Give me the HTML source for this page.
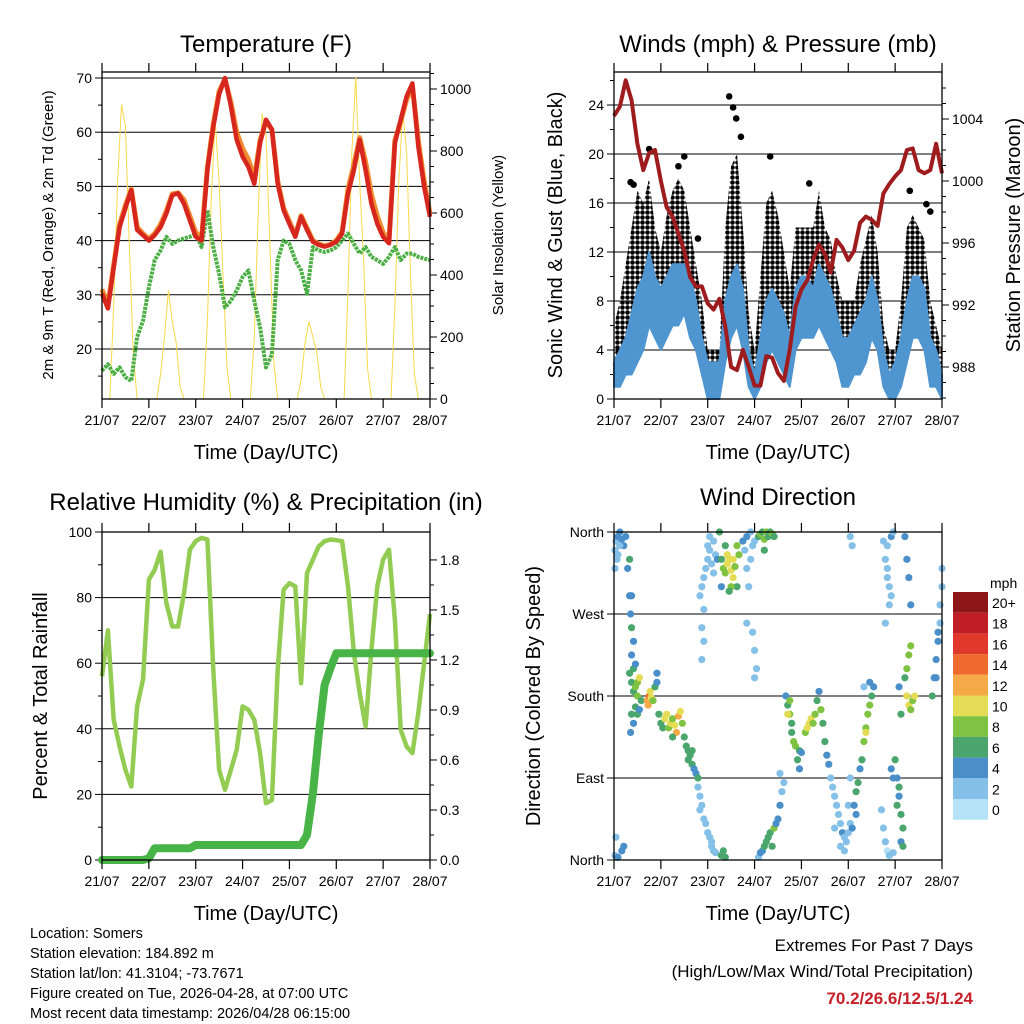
<!DOCTYPE html>
<html><head><meta charset="utf-8"><style>
html,body{margin:0;padding:0;background:#fff;}
svg{display:block;font-family:"Liberation Sans",sans-serif;}
</style></head><body>
<svg id="c" width="1024" height="1024" viewBox="0 0 1024 1024" xmlns="http://www.w3.org/2000/svg">
<defs>
<pattern id="dots" width="5" height="5" patternUnits="userSpaceOnUse">
<circle cx="2.5" cy="2.5" r="2.3" fill="#000"/>
</pattern>
</defs>
</svg>
<script>
// ---- data (3-hourly, hours since 21/07 00Z) ----
const hours3 = [];
for (let i = 0; i <= 56; i++) hours3.push(i * 3);
const dayLabels = ["21/07","22/07","23/07","24/07","25/07","26/07","27/07","28/07"];
const temp2m = [30.2,27.5,35,42.5,46,49.3,42,41,40,41,42.5,45,48.4,48.7,46.8,43.7,40.7,40,53,61,67,70,64.8,58.6,55.5,53.6,50.5,58,62.3,60.5,50.5,45.6,43.1,40.7,44.4,42,39.8,39.2,38.9,39.2,39.8,41.3,48.7,53,58.6,53,46.8,43.1,40.7,39.5,58,62.3,66.6,69,57.4,50,44.4];
const temp9m = [31,28,35.5,43,46.5,49.5,42.5,41.3,40.3,41.3,43,45.5,48.6,48.8,47.5,44.5,41.5,40.5,53.5,61.5,67.5,69.8,65.5,60,57,55,51.5,58.5,62,60.5,51,46,43.5,41,44.6,42.3,40,39.4,39,39.3,40,41.6,49.5,54,59,54.5,48.5,44.5,41.5,40,58.5,62,66,68.4,58.5,51,45];
const dewpt = [16,17.2,15.4,16.6,14.8,14.1,22.2,25.2,31.4,36.4,38.2,40.7,39.4,40,40.4,40.7,41.3,38.8,45.6,38.8,33.9,27.7,28.9,30.8,33.3,34.5,28.9,24,16.6,19,36.4,40,39.4,36.4,34.5,30.2,38.8,38.2,37.9,38.2,38.8,40,41.3,39.4,37.6,38.8,37,36.4,35.7,37,38.8,36.4,37.6,37.6,37,36.7,36.4];
const hours2 = [];
for (let i = 0; i <= 84; i++) hours2.push(i * 2);
const solar = [0,0,0,300,700,950,880,500,150,0,0,0,
 0,0,0,80,200,350,250,180,40,0,0,0,
 0,0,0,250,650,900,700,400,100,0,0,0,
 0,0,0,200,600,920,850,500,120,0,0,0,
 0,0,0,60,180,250,200,150,40,0,0,0,
 0,0,0,350,800,1040,700,450,100,0,0,0,
 0,0,0,300,700,930,800,400,80,0,0,0,0];
const pressure = [1004.2,1004.8,1006.5,1005.2,1002.4,1000.7,1001.8,1002,1000,998.3,997.7,996.6,995.5,993.8,993.2,993.2,992.1,991.7,992.4,990.6,988,987.8,989.1,988,986.8,986.8,988.7,988.6,987.6,987.1,989.1,991.9,993,993.6,994.9,995.9,995.3,994.1,996.2,995.7,994.9,995.5,997.3,997.7,997.5,997.1,999.2,999.8,1000.3,1000.7,1002,1002.1,1000.7,1000.5,1000.7,1002.4,1000.5];
const windLo = [1,1,2,2,3,4,6,5,4,5,6,6,7,5,4,2,0,0,0,3,5,6,4,1,0,1,3,4,3,2,1,4,5,5,5,6,5,4,3,1,1,2,2,3,5,4,1,0,0,1,3,5,5,4,1,1,0];
const windHi = [3,4,5,7,9,10,12,10,9,10,11,11,11,10,8,5,3,3,3,8,10,11,9,4,2,5,8,9,8,7,5,9,10,10,9,11,10,9,7,5,5,6,7,8,10,8,4,2,3,5,8,10,10,9,5,4,2];
const gustLo = [2,3,4,5,7,8,9,7,6,8,9,10,10,8,6,3,1,1,1,6,10,10,7,2,1,3,6,8,6,5,3,7,7,8,8,9,8,6,4,3,2,3,4,6,9,6,2,1,1,3,6,7,8,7,2,2,1];
const gustHi = [6,8,11,14,17,16,18,14,12,15,17,18,17,14,11,8,4,4,4,14,19,20,14,7,4,10,16,17,15,12,9,14,14,14,14,17,14,13,10,8,8,8,11,13,15,12,6,4,4,8,14,15,14,13,8,6,4];
const gustPeakHour = [8.5,10,18,33,36,43,59,61,62.6,65,80,100,151.5,160,162];
const gustPeakVal = [17.7,17.5,20.4,19,19.8,13.1,24.7,23.8,22.9,21.4,19.8,17.6,17,15.9,15.3];
const rh = [56,70,42.7,34.6,27.5,22.4,46.8,55,85.5,88.5,94,78.3,71.2,71.2,81.4,94.6,97.2,98.2,97.7,58,27.5,21.4,27.5,33.6,46.8,45.8,42.7,32.6,17.3,18.3,58,82.4,84.4,83.4,53.9,87.5,91.6,95.6,97.2,97.7,97.5,97.2,83.4,63.1,50.9,40.7,64.1,83.4,91.6,94.6,73.2,39.7,34.6,32.6,44.8,60,75];
const rain = [0,0,0,0,0,0,0,0,0.01,0.07,0.07,0.07,0.07,0.07,0.07,0.07,0.09,0.09,0.09,0.09,0.09,0.09,0.09,0.09,0.09,0.09,0.09,0.09,0.09,0.09,0.09,0.09,0.09,0.09,0.09,0.15,0.4,0.75,1.05,1.15,1.24,1.24,1.24,1.24,1.24,1.24,1.24,1.24,1.24,1.24,1.24,1.24,1.24,1.24,1.24,1.24,1.24];
// wind direction observations: [hour, direction deg, speed mph]
const wdObs = [[0.5,340,1],[1,350,1.5],[2,355,3],[3,360,3],[1.5,330,1],[4,352,3],[5,345,3],[0.5,320,1],[2,335,1],[6,355,3],[3,345,2],
[0.5,5,1],[2,3,3],[4,10,3],[5,15,3],[1,25,1],[8,290,3],[9,290,3],[7,320,3],[8,330,6],
[8.5,270,3],[9,255,6],[10,240,3],[9,225,4],[10,210,6],[11,215,4],[8,205,6],
[9,195,5],[10,185,6],[11,190,8],[12,195,8],[13,200,9],[12,180,7],[14,175,5],[11,168,6],[9,160,5],[10,150,4],[12,160,6],[13,165,4],[8.5,140,4],
[17,175,12],[18,180,13],[17.5,170,11],[19,178,10],[20,175,8],[18.5,185,10],[21,190,6],[22,195,4],[22,205,4],
[23,160,6],[24,150,6],[25,145,6],[26,155,10],[27,160,10],[28,145,8],[29,150,9],[30,155,8],[31,148,10],[32,140,12],[33,158,11],[34,163,10],[35,150,8],[30,135,6],
[36,135,6],[37,125,6],[38,120,5],[39,115,6],[40,105,6],[41,100,4],[42,95,4],[43,90,6],[38,110,6],[40,120,6],
[43,80,2],[44,70,1],[45,60,1],[46,45,1],[47,40,1],[44,55,1],[48,30,1],[49,25,2],[50,15,1],[51,10,2],[52,8,2],[50,20,1],
[55,5,5],[56,10,6],[57,3,5],
[44,290,1],[45,300,1],[46,310,2],[47,320,2],[48,330,2],[49,340,2],[50,325,1],[51,315,1],[46,275,1],[45,255,1],[46,240,2],[45,220,2],
[48,345,2],[49,355,1],[51,350,2],[52,335,2],[53,330,3],
[55,330,6],[56,320,8],[57,315,8],[58,325,10],[59,330,10],[60,318,10],[61,310,9],[62,322,8],[63,300,6],[64,335,8],[63,345,7],[57,345,6],[60,300,8],[58,335,10],[61,330,9],[66,350,4],[67,340,2],[55,300,4],[59,295,6],[54,360,6],
[68,320,2],[69,300,1],[70,330,2],[71,345,2],[72,350,1],[70,360,1],[68,260,1],[71,250,1],[72,230,1],[73,210,2],[72,200,1],[68,355,4],
[74,355,6],[75,358,8],[76,360,6],[77,352,8],[78,360,7],[79,355,6],[80,360,6],[81,358,7],[82,355,6],[77,340,6],
[74,3,2],[75,8,3],[76,10,4],[77,15,6],[78,20,6],[79,25,5],[80,30,6],[81,15,6],[82,35,8],[83,40,4],[84,45,4],[85,60,3],[86,75,2],[87,85,2],[85,95,2],
[88,180,4],[89,170,6],[90,160,7],[91,150,6],[92,130,7],[93,125,7],[94,110,6],[95,120,6],[96,118,4],[90,175,8],[89,160,10],[91,140,6],[95,100,4],
[98,140,8],[99,145,10],[100,150,10],[101,155,10],[102,150,8],[103,160,7],[104,175,6],[105,185,4],[106,165,7],[107,150,6],[108,130,6],[109,115,4],[110,105,4],
[111,90,1],[112,80,2],[113,70,2],[114,60,2],[115,50,1],[116,40,2],[117,30,3],[118,25,2],[119,20,2],[120,30,2],[121,40,2],[122,35,4],[118,10,1],[116,15,2],[113,35,1],[120,60,1],[121,90,1],
[123,60,4],[124,75,6],[125,85,6],[126,100,4],[127,110,6],[128,130,7],[129,145,8],[130,160,8],[131,170,8],[132,180,6],[133,190,4],[131,195,4],[129,140,10],[124,50,4],[128,190,1],
[121,355,1],[122,345,1],
[138,350,1],[139,330,1],[140,320,2],[141,300,1],[142,290,2],[140,310,1],[141,280,1],[142,355,3],[140,345,2],[143,360,2],[139,260,1],
[137,55,1],[138,35,1],[139,20,1],[140,10,0],[141,5,1],[143,8,1],[143,90,4],[142,100,4],[144,110,6],[145,90,4],[146,70,4],[147,50,6],[148,35,6],[147,20,4],[145,60,5],[146,80,6],[148,15,6],
[146,190,4],[147,160,6],[149,200,6],[150,210,8],[151,225,7],[152,235,7],[150,180,10],[151,170,10],[152,165,8],[153,175,8],[154,180,9],
[149,355,4],[150,330,4],[151,310,4],[152,280,4],
[163,180,6],[164,200,4],[165,220,4],[166,240,4],[167,260,2],[167,280,2],[168,300,2],[168,320,2],[166,250,4],[165,200,4]];
const speedBins = ["0","2","4","6","8","10","12","14","16","18","20+"];
const speedColors = ["#b5e2f6","#84c0e8","#4a8fc9","#4aa66c","#80c342","#e4dc55","#f6aa47","#ef6a2e","#e0392b","#bf1e26","#8d1619"];

// ---- helpers ----
const NS = "http://www.w3.org/2000/svg";
const svg = document.getElementById("c");
function el(tag, attrs, parent) {
  const e = document.createElementNS(NS, tag);
  for (const k in attrs) e.setAttribute(k, attrs[k]);
  (parent || svg).appendChild(e);
  return e;
}
function txt(s, x, y, size, anchor, parent, extra) {
  const t = el("text", Object.assign({x: x, y: y, "font-size": size, "text-anchor": anchor || "start", fill: "#000"}, extra || {}), parent);
  t.textContent = s;
  return t;
}
const X0L = 102, X1L = 430, X0R = 614, X1R = 942;
function xH(h, x0) { return x0 + h * 328 / 168; }
function poly(xs, ys) { return xs.map((x, i) => x.toFixed(1) + "," + ys[i].toFixed(1)).join(" "); }

function frame(g, x0, y0, y1, name) {
  const f = el("rect", {x: x0, y: y0, width: 328, height: y1 - y0, fill: "none", stroke: "#000", "stroke-width": 1.3}, g);
  
  
  for (let d = 0; d <= 7; d++) {
    const x = xH(d * 24, x0);
    el("line", {x1: x, x2: x, y1: y0 - 9, y2: y0, stroke: "#000", "stroke-width": 1.2}, g);
    el("line", {x1: x, x2: x, y1: y1, y2: y1 + 9, stroke: "#000", "stroke-width": 1.2}, g);
    const t = txt(dayLabels[d], x, y1 + 26, 14, "middle", g);
    
    
  }
  const xt = txt("Time (Day/UTC)", x0 + 164, y1 + 60, 20, "middle", g);
  
  
}
function grid(g, x0, y) {
  el("line", {x1: x0, x2: x0 + 328, y1: y, y2: y, stroke: "#000", "stroke-width": 1}, g);
}
function leftTick(g, x0, y, label, major) {
  el("line", {x1: x0 - (major ? 7 : 4), x2: x0, y1: y, y2: y, stroke: "#000", "stroke-width": 1}, g);
  if (label !== null) {
    const t = txt(label, x0 - 10, y + 5, 14, "end", g);
    
    
  }
}
function rightTick(g, x1, y, label, major) {
  el("line", {x1: x1, x2: x1 + (major ? 7 : 4), y1: y, y2: y, stroke: "#000", "stroke-width": 1}, g);
  if (label !== null) {
    const t = txt(label, x1 + 10, y + 5, 14, "start", g);
    
    
  }
}
function vtitle(s, x, y, size, g, name) {
  const t = txt(s, x, y, size, "middle", g, {transform: "rotate(-90 " + x + " " + y + ")"});
  
  
}
function title(s, x, y, g) {
  const t = txt(s, x, y, 24, "middle", g);
  
  
}

// ===== Panel 1: Temperature =====
const g1 = el("g", {});


const yT = v => 78 + (70 - v) * 5.42;
const yS = v => 399 - v * 0.31;
for (let v = 20; v <= 70; v += 10) grid(g1, X0L, yT(v));
for (let v = 15; v <= 70; v += 5) leftTick(g1, X0L, yT(v), v % 10 === 0 ? String(v) : null, v % 10 === 0);
for (let v = 0; v <= 1050; v += 50) rightTick(g1, X1L, yS(v), v % 200 === 0 ? String(v) : null, v % 200 === 0);
const sol = el("polyline", {points: poly(hours2.map(h => xH(h, X0L)), solar.map(yS)), fill: "none", stroke: "#f7d94a", "stroke-width": 1}, g1);


const dp = el("polyline", {points: poly(hours3.map(h => xH(h, X0L)), dewpt.map(yT)), fill: "none", stroke: "#4caf45", "stroke-width": 4, "stroke-dasharray": "3 1", "stroke-linejoin": "round"}, g1);


const t9 = el("polyline", {points: poly(hours3.map(h => xH(h, X0L)), temp9m.map(yT)), fill: "none", stroke: "#f28a2e", "stroke-width": 5, "stroke-linejoin": "round"}, g1);


const t2 = el("polyline", {points: poly(hours3.map(h => xH(h, X0L)), temp2m.map(yT)), fill: "none", stroke: "#d7261e", "stroke-width": 4.5, "stroke-linejoin": "round"}, g1);


frame(g1, X0L, 72, 399, "temperature");
title("Temperature (F)", 266, 52, g1);
vtitle("2m & 9m T (Red, Orange) & 2m Td (Green)", 53, 235, 15, g1, "y-axis-title");
vtitle("Solar Insolation (Yellow)", 503, 235, 15, g1, "right-y-axis-title");

// ===== Panel 2: Winds & Pressure =====
const g2 = el("g", {});


const yW = v => 399 - v * 12.25;
const yP = p => 367 - (p - 988) * 15.5;
for (let v = 4; v <= 24; v += 4) grid(g2, X0R, yW(v));
for (let v = 0; v <= 26; v += 2) leftTick(g2, X0R, yW(v), v % 4 === 0 ? String(v) : null, v % 4 === 0);
for (let p = 986; p <= 1006; p += 1) { const y = yP(p); if (y >= 72 && y <= 399) rightTick(g2, X1R, y, p % 4 === 0 ? String(p) : null, p % 4 === 0); }
const gx = hours3.map(h => xH(h, X0R));
const gb = el("polygon", {points: poly(gx.concat(gx.slice().reverse()), gustHi.map(yW).concat(gustLo.map(yW).reverse())), fill: "url(#dots)", stroke: "none"}, g2);


gustPeakHour.forEach((h, i) => {
  const c = el("circle", {cx: xH(h, X0R), cy: yW(gustPeakVal[i]), r: 3.3, fill: "#000"}, g2);
  
  
});
const wb = el("polygon", {points: poly(gx.concat(gx.slice().reverse()), windHi.map(yW).concat(windLo.map(yW).reverse())), fill: "#4f95d0", stroke: "#4f95d0", "stroke-width": 2, "stroke-linejoin": "round"}, g2);


const pl = el("polyline", {points: poly(gx, pressure.map(yP)), fill: "none", stroke: "#9e1b1e", "stroke-width": 4, "stroke-linejoin": "round"}, g2);


frame(g2, X0R, 72, 399, "winds");
title("Winds (mph) & Pressure (mb)", 778, 52, g2);
vtitle("Sonic Wind & Gust (Blue, Black)", 562, 235, 20, g2, "y-axis-title");
vtitle("Station Pressure (Maroon)", 1020, 235, 20, g2, "right-y-axis-title");

// ===== Panel 3: RH & Precip =====
const g3 = el("g", {});


const yRH = v => 860 - v * 3.28;
const yR = r => 860 - r * 166.7;
for (let v = 20; v <= 80; v += 20) grid(g3, X0L, yRH(v));
for (let v = 0; v <= 100; v += 10) leftTick(g3, X0L, yRH(v), v % 20 === 0 ? String(v) : null, v % 20 === 0);
for (let k = 0; k <= 12; k++) { const r = k * 0.15; rightTick(g3, X1L, yR(r), k % 2 === 0 ? r.toFixed(1) : null, k % 2 === 0); }
const rl = el("polyline", {points: poly(hours3.map(h => xH(h, X0L)), rh.map(yRH)), fill: "none", stroke: "#93cc52", "stroke-width": 4.5, "stroke-linejoin": "round"}, g3);


const rn = el("polyline", {points: poly(hours3.map(h => xH(h, X0L)), rain.map(yR)), fill: "none", stroke: "#48b447", "stroke-width": 8, "stroke-linejoin": "round", "stroke-linecap": "round"}, g3);


frame(g3, X0L, 532, 860, "humidity");
title("Relative Humidity (%) & Precipitation (in)", 266, 510, g3);
vtitle("Percent & Total Rainfall", 47, 696, 20, g3, "y-axis-title");

// ===== Panel 4: Wind Direction =====
const g4 = el("g", {});


const yD = d => 860 - d * 328 / 360;
const dirNames = ["North","East","South","West","North"];
for (let k = 0; k <= 4; k++) {
  const y = yD(k * 90);
  grid(g4, X0R, y);
  leftTick(g4, X0R, y, null, true);
  const t = txt(dirNames[k], X0R - 10, y + 5, 14, "end", g4);
  
  
}
wdObs.forEach(o => {
  const bin = Math.min(10, Math.max(0, Math.round(o[2] / 2)));
  const c = el("circle", {cx: xH(o[0], X0R), cy: yD(o[1]), r: 3.6, fill: speedColors[bin]}, g4);
  
  
});
frame(g4, X0R, 532, 860, "direction");
title("Wind Direction", 778, 505, g4);
vtitle("Direction (Colored By Speed)", 540, 696, 20, g4, "y-axis-title");
const cb = el("g", {}, g4);


const mph = txt("mph", 990, 588, 14, "start", cb);


for (let i = 0; i < 11; i++) {
  const idx = 10 - i;
  const y = 592 + i * 20.7;
  const r = el("rect", {x: 953, y: y, width: 35, height: 20.7, fill: speedColors[idx]}, cb);
  
  
  const t = txt(speedBins[idx], 992, y + 16, 14, "start", cb);
  
  
}

// ===== footer text =====
const info = ["Location: Somers","Station elevation: 184.892 m","Station lat/lon: 41.3104; -73.7671","Figure created on Tue, 2026-04-28, at 07:00 UTC","Most recent data timestamp: 2026/04/28 06:15:00"];
info.forEach((s, i) => {
  const t = txt(s, 30, 938 + i * 20, 14.5, "start");
  
  
});
const e1 = txt("Extremes For Past 7 Days", 973, 951, 17, "end");


const e2 = txt("(High/Low/Max Wind/Total Precipitation)", 973, 977, 17, "end");


const e3 = txt("70.2/26.6/12.5/1.24", 973, 1004, 17, "end", null, {fill: "#c8202a", "font-weight": "bold"});


</script>
</body></html>
